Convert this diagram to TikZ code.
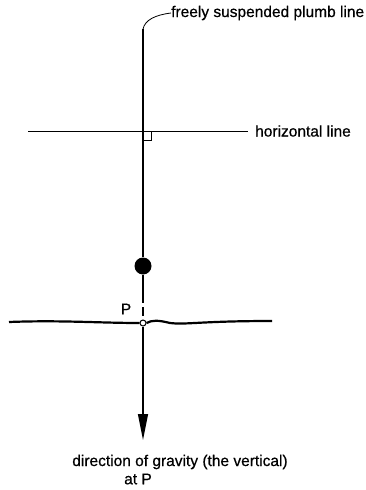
\documentclass[tikz,border=0pt]{standalone}
\usepackage{fontspec}
\setmainfont{Liberation Sans}[FakeBold=0.6]
\usetikzlibrary{arrows.meta}
\begin{document}
\begin{tikzpicture}[x=1pt,y=-1pt,
  lbl/.style={font=\fontsize{15.5}{18}\selectfont, inner sep=0pt},
  thin line/.style={line width=1.3pt},
  thick line/.style={line width=2.2pt}]
\useasboundingbox (0,0) rectangle (365,490);
% coordinates
\coordinate (top) at (143,29);
\node[circle, fill=black, minimum size=17pt, inner sep=0pt] (bob) at (143,266) {};
\coordinate (stubend) at (143,294);
\node[circle, draw, fill=white, line width=1pt, minimum size=6pt, inner sep=0pt] (P) at (143,323) {};
\coordinate (tip) at (143,440);
\coordinate (hl) at (28,131);
\coordinate (hr) at (248,131);
\coordinate (gl) at (9,322);
\coordinate (gr) at (272,321);
% labels
\node[lbl, anchor=west] (plumb) at (171,13) {freely suspended plumb line};
\node[lbl, anchor=west] (horiz) at (255,131) {horizontal line};
\node[lbl] (Plbl) at (126,309) {P};
\node[lbl] (dir) at (180,462) {direction of gravity (the vertical)};
\node[lbl] (atP) at (138,479) {at P};
% plumb line
\draw[thin line] (top) -- (bob.north);
\draw[line width=0.8pt] (top) .. controls (145,20) and (155,15) .. (plumb.west);
\draw[thick line] (bob.south) -- (stubend);
\draw[line width=1.2pt, dash pattern=on 9pt off 4pt] (stubend) -- (P.north);
% horizontal line and right angle
\draw[line width=1pt] (hl) -- (hr);
\draw[line width=1pt] (143,131) -- (151,131) -- (151,140) -- (143,140);
% ground
\draw[thick line] (gl) .. controls (60,320) and (100,323) .. (P.west);
\draw[thick line] (P.east) .. controls (152,320) and (158,320) .. (170,323)
  .. controls (185,325) and (200,321) .. (gr);
% gravity arrow
\draw[thin line, -{Triangle[length=26pt,width=10pt]}] (P.south) -- (tip);
\end{tikzpicture}
\end{document}
